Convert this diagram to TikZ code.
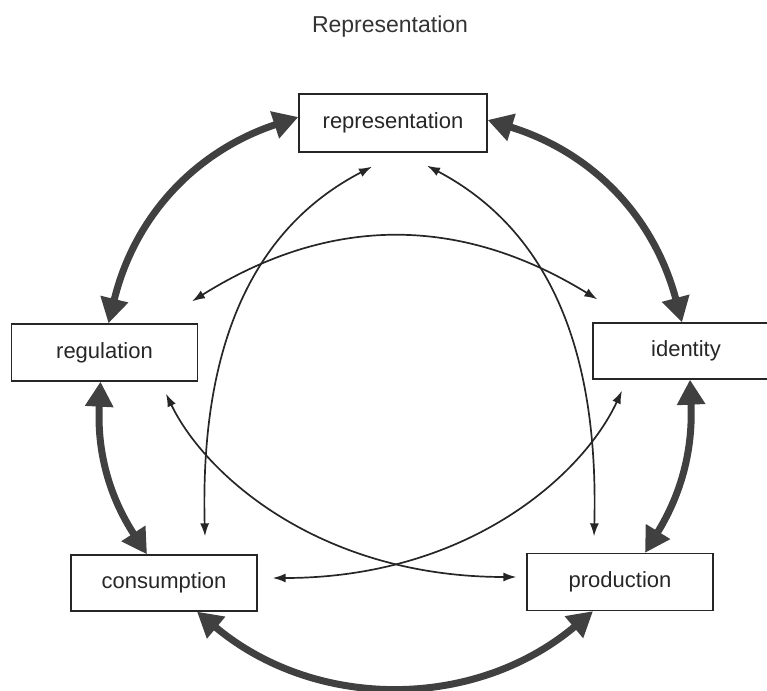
\documentclass[tikz,border=0pt]{standalone}
\usepackage{fontspec}
\setmainfont{Liberation Sans}
\usetikzlibrary{arrows.meta}
\begin{document}
\begin{tikzpicture}[x=1pt,y=1pt,
  box/.style={draw=black!85, line width=1.3pt, minimum width=186pt, minimum height=57pt, inner sep=0pt, font=\fontsize{22}{25}\selectfont, text=black!85},
  thickarrow/.style={line width=7pt, draw=black!75, {Triangle[length=25pt,width=27pt]}-{Triangle[length=25pt,width=27pt]}},
  thinarrow/.style={line width=1.7pt, draw=black!85, {Latex[length=13pt,width=9pt]}-{Latex[length=13pt,width=9pt]}}]
\clip (0,0) rectangle (767,690);
\useasboundingbox (0,0) rectangle (767,690);
\node[font=\fontsize{23}{27}\selectfont, text=black!80, anchor=base] (title) at (390,657) {Representation};
\node[box, minimum width=188pt, minimum height=58pt] (rep) at (393,567) {representation};
\node[box] (reg) at (104.5,337.5) {regulation};
\node[box, minimum height=56pt] (id) at (686,339) {identity};
\node[box, minimum height=56pt] (cons) at (164,107) {consumption};
\node[box] (prod) at (620,108) {production};
% thick outer arrows
\draw[thickarrow] ([yshift=6pt]rep.west) to[bend right=29] ([xshift=4pt]reg.north);
\draw[thickarrow] ([yshift=3pt]rep.east) to[bend left=29] ([xshift=-4pt]id.north);
\draw[thickarrow] ([xshift=-4pt]reg.south) to[bend right=18] ([xshift=-17pt]cons.north);
\draw[thickarrow] ([xshift=4pt]id.south) to[bend left=17] ([xshift=25pt]prod.north);
\draw[thickarrow] ([xshift=33pt]cons.south) to[bend right=40] ([xshift=-27pt]prod.south);
% thin inner arrows
\draw[thinarrow] ([xshift=-21pt,yshift=-14pt]rep.south) .. controls (250,460) and (200,340) .. ([xshift=41pt,yshift=18pt]cons.north);
\draw[thinarrow] ([xshift=34pt,yshift=-13pt]rep.south) .. controls (549,460) and (599,340) .. ([xshift=-26pt,yshift=16.5pt]prod.north);
\draw[thinarrow] ([xshift=87.5pt,yshift=22pt]reg.north) .. controls (330,475) and (460,475) .. ([xshift=5pt,yshift=23pt]id.north west);
\draw[thinarrow] ([xshift=61.5pt,yshift=-12pt]reg.south) .. controls (205,215) and (320,113) .. ([xshift=-10pt,yshift=5pt]prod.west);
\draw[thinarrow] ([xshift=-64pt,yshift=-11pt]id.south) .. controls (583,215) and (468,112) .. ([xshift=15pt,yshift=5pt]cons.east);
\end{tikzpicture}
\end{document}
